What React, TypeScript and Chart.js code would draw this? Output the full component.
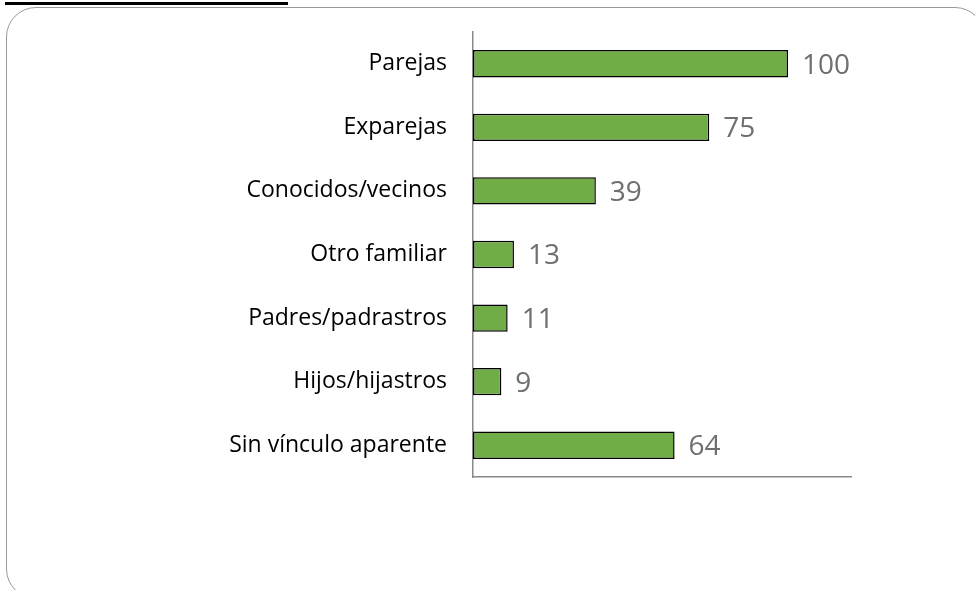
import React, { useEffect, useRef } from "react";
import { Chart, registerables } from "chart.js";

Chart.register(...registerables);

const categories = [
  "Parejas",
  "Exparejas",
  "Conocidos/vecinos",
  "Otro familiar",
  "Padres/padrastros",
  "Hijos/hijastros",
  "Sin vínculo aparente",
];
const values = [100, 75, 39, 13, 11, 9, 64];
const xMax = 120;

const valueLabels = {
  id: "valueLabels",
  afterDatasetsDraw(chart: any) {
    const ctx = chart.ctx;
    const meta = chart.getDatasetMeta(0);
    ctx.save();
    ctx.font = "28px 'Open Sans'";
    ctx.fillStyle = "#6f6f6f";
    ctx.textAlign = "left";
    ctx.textBaseline = "middle";
    meta.data.forEach((bar: any, i: number) => {
      ctx.fillText(String(values[i]), bar.x + 14, bar.y + 2);
    });
    ctx.restore();
  },
};

export default function App() {
  const ref = useRef<HTMLCanvasElement | null>(null);
  useEffect(() => {
    if (!ref.current) return;
    const chart = new Chart(ref.current, {
      type: "bar",
      data: {
        labels: categories,
        datasets: [
          {
            data: values,
            backgroundColor: "#70ad47",
            borderColor: "#000000",
            borderWidth: 1.5,
            borderSkipped: false,
            categoryPercentage: 1,
            barPercentage: 0.43,
          },
        ],
      },
      options: {
        indexAxis: "y",
        animation: false,
        responsive: false,
        layout: { padding: { top: 32, bottom: 113, right: 124, left: 0 } },
        plugins: { legend: { display: false }, tooltip: { enabled: false } },
        scales: {
          x: {
            min: 0,
            max: xMax,
            ticks: { display: false },
            grid: { display: false, drawTicks: false },
            border: { display: true, color: "#898989", width: 1.5 },
            afterFit: (s: any) => {
              s.height = 0;
              s.paddingLeft = 0;
              s.paddingRight = 0;
            },
          },
          y: {
            ticks: {
              color: "#000000",
              font: { family: "'Open Sans'", size: 23 },
              padding: 26,
            },
            grid: { display: false, drawTicks: false },
            border: { display: true, color: "#898989", width: 1.5 },
            afterFit: (s: any) => {
              s.width = 473;
              s.paddingTop = 0;
              s.paddingBottom = 0;
            },
          },
        },
      },
      plugins: [valueLabels],
    });
    return () => chart.destroy();
  }, []);
  return (
    <div style={{ position: "fixed", left: 0, top: 0, width: 975, height: 590, overflow: "hidden", background: "#fff" }}>
      <div style={{ position: "absolute", left: 5, top: 2, width: 283, height: 3, background: "#000" }} />
      <div
        style={{
          position: "absolute",
          left: 6,
          top: 7,
          width: 979,
          height: 592,
          border: "1.5px solid #999",
          borderRadius: 30,
          boxSizing: "border-box",
        }}
      />
      <canvas ref={ref} width={975} height={590} style={{ position: "absolute", left: 0, top: 0 }} />
    </div>
  );
}
